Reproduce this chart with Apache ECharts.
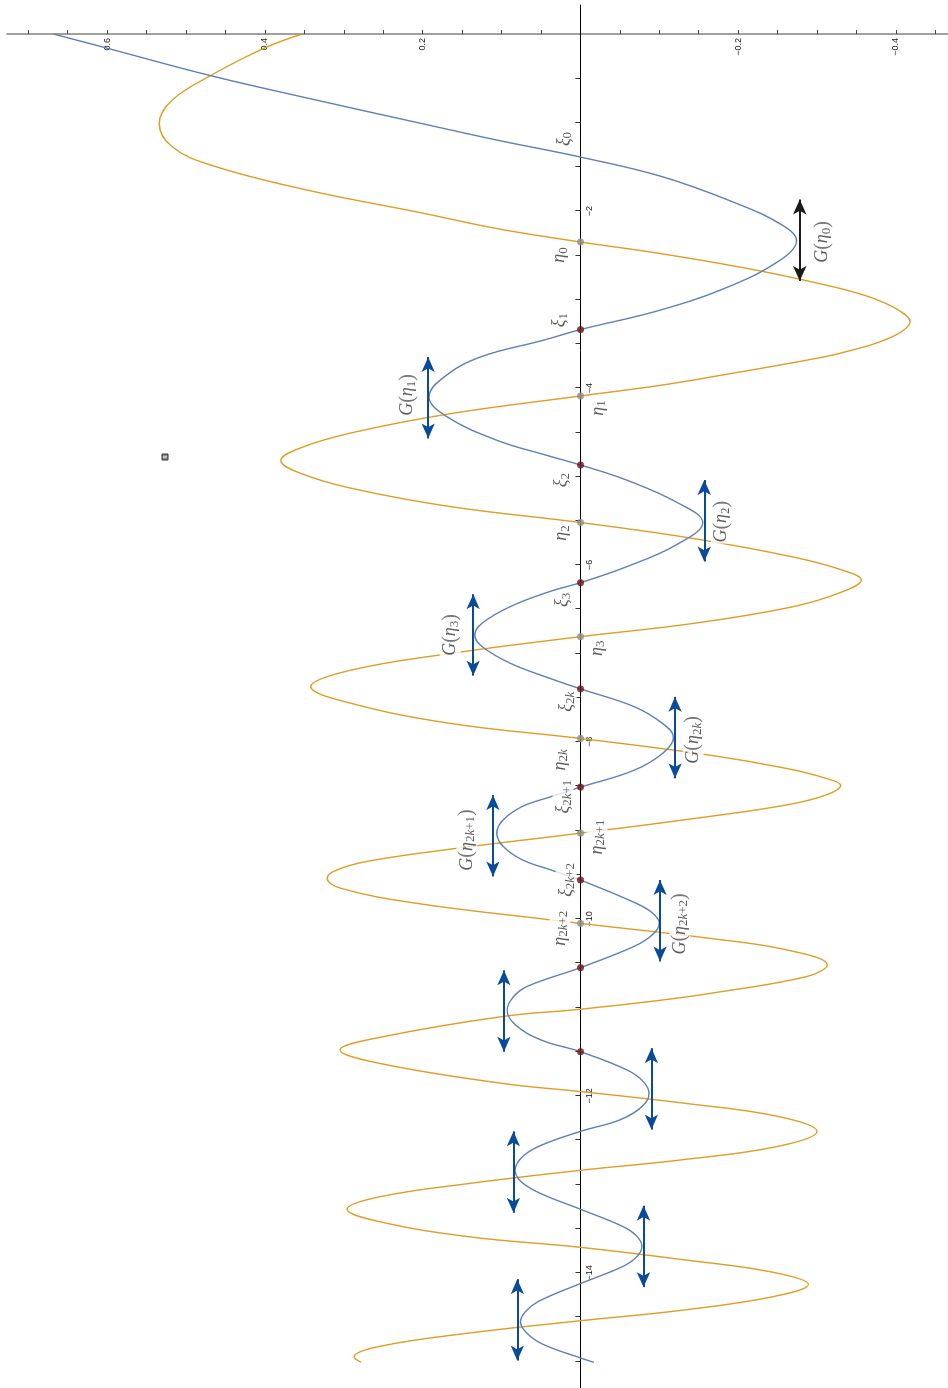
<!DOCTYPE html>
<html>
<head>
<meta charset="utf-8">
<script src="https://cdn.jsdelivr.net/npm/echarts@6/dist/echarts.min.js"></script>
<style>
  html, body { margin: 0; padding: 0; background: #fff; overflow: hidden; width: 948px; height: 1388px; }
  /* the plot is drawn lying down, then turned a quarter turn counter-clockwise */
  #chart { position: absolute; left: 0; top: 0; width: 1388px; height: 948px;
           transform-origin: 0 0; transform: translateY(1388px) rotate(-90deg); }
</style>
</head>
<body>
<div id="chart"></div>
<script>
/* ------------------------------------------------------------------ */
/*                         values                   */
/* ------------------------------------------------------------------ */

// blue curve  [t, value]
const bluePoints = [
  [0, 0.668], [-0.16, 0.600], [-0.47, 0.469], [-0.72, 0.348], [-1.01, 0.202],
  [-1.20, 0.105], [-1.39, 0], [-1.61, -0.103], [-1.91, -0.197], [-2.16, -0.256],
  [-2.335, -0.274], [-2.55, -0.254], [-2.855, -0.188], [-3.12, -0.101], [-3.34, 0],
  [-3.46, 0.047], [-3.65, 0.127], [-3.87, 0.172], [-4.10, 0.192], [-4.32, 0.170],
  [-4.59, 0.106], [-4.76, 0.043], [-4.87, 0], [-5.04, -0.0585], [-5.30, -0.124],
  [-5.52, -0.155], [-5.77, -0.122], [-6.02, -0.0585], [-6.20, 0], [-6.30, 0.039],
  [-6.47, 0.089], [-6.66, 0.125], [-6.79, 0.134], [-6.92, 0.125], [-7.11, 0.089],
  [-7.28, 0.039], [-7.40, 0], [-7.60, -0.068], [-7.79, -0.104], [-7.95, -0.118],
  [-8.13, -0.104], [-8.32, -0.068], [-8.51, 0], [-8.62, 0.038], [-8.73, 0.074],
  [-8.88, 0.098], [-9.03, 0.106], [-9.18, 0.098], [-9.33, 0.074], [-9.45, 0.036],
  [-9.56, 0], [-9.82, -0.070], [-9.93, -0.091], [-10.05, -0.100], [-10.18, -0.091],
  [-10.31, -0.068], [-10.55, 0], [-10.76, 0.067], [-10.88, 0.085], [-11.03, 0.093],
  [-11.20, 0.082], [-11.37, 0.049], [-11.50, 0], [-11.71, -0.060], [-11.84, -0.080],
  [-11.97, -0.087], [-12.12, -0.078], [-12.27, -0.050], [-12.40, 0], [-12.57, 0.053],
  [-12.70, 0.075], [-12.84, 0.083], [-12.97, 0.075], [-13.10, 0.051], [-13.28, 0],
  [-13.48, -0.055], [-13.58, -0.071], [-13.70, -0.078], [-13.82, -0.071], [-13.93, -0.053],
  [-14.12, 0], [-14.32, 0.053], [-14.43, 0.069], [-14.55, 0.076], [-14.67, 0.069],
  [-14.80, 0.049], [-14.96, 0], [-15.01, -0.017]
];

// orange curve  [t, value]
const orangePoints = [
  [0, 0.353], [-0.16, 0.401], [-0.47, 0.469], [-0.75, 0.518], [-1.01, 0.534],
  [-1.27, 0.518], [-1.48, 0.469], [-1.76, 0.348], [-2.02, 0.202], [-2.20, 0.105],
  [-2.35, 0], [-2.48, -0.101], [-2.67, -0.224], [-2.855, -0.320], [-2.93, -0.352],
  [-3.01, -0.378], [-3.13, -0.405], [-3.25, -0.418], [-3.37, -0.406], [-3.49, -0.376],
  [-3.57, -0.345], [-3.65, -0.308], [-3.85, -0.182], [-3.97, -0.101],
  [-4.09, 0], [-4.29, 0.165], [-4.51, 0.292], [-4.68, 0.356], [-4.82, 0.380],
  [-4.96, 0.356], [-5.13, 0.292], [-5.34, 0.165], [-5.52, 0], [-5.70, -0.143],
  [-5.91, -0.270], [-6.06, -0.333], [-6.17, -0.356], [-6.30, -0.333], [-6.47, -0.270],
  [-6.66, -0.143], [-6.81, 0], [-7.00, 0.165], [-7.19, 0.292], [-7.375, 0.342],
  [-7.56, 0.292], [-7.79, 0.165], [-7.96, 0], [-8.15, -0.165], [-8.30, -0.262],
  [-8.41, -0.311], [-8.49, -0.330], [-8.60, -0.311], [-8.71, -0.262], [-8.84, -0.165],
  [-9.03, 0], [-9.21, 0.164], [-9.35, 0.271], [-9.45, 0.310], [-9.54, 0.321],
  [-9.65, 0.305], [-9.82, 0.210], [-10.01, 0.038], [-10.05, 0], [-10.22, -0.165],
  [-10.35, -0.262], [-10.52, -0.313], [-10.65, -0.287], [-10.84, -0.165], [-10.92, -0.100],
  [-11.02, 0], [-11.10, 0.097], [-11.33, 0.250], [-11.48, 0.305], [-11.64, 0.250],
  [-11.86, 0.097], [-11.95, 0], [-12.08, -0.130], [-12.23, -0.250], [-12.40, -0.300],
  [-12.57, -0.250], [-12.72, -0.130], [-12.84, 0], [-12.99, 0.142], [-13.14, 0.255],
  [-13.28, 0.296], [-13.42, 0.255], [-13.59, 0.142], [-13.71, 0], [-13.85, -0.130],
  [-13.99, -0.243], [-14.13, -0.289], [-14.27, -0.243], [-14.42, -0.130], [-14.54, 0],
  [-14.68, 0.142], [-14.83, 0.255], [-14.95, 0.287], [-15.01, 0.278]
];

// marked zeros on the axis
const xiZeros = [-3.34, -4.87, -6.20, -7.40, -8.51, -9.56, -10.55, -11.50];
const etaZeros = [-2.35, -4.09, -5.52, -6.81, -7.96, -9.03, -10.05];

// double arrows at the extrema of the blue curve  [t, value]
const arrowCenters = [
  [-2.33, -0.278], [-4.11, 0.193], [-5.50, -0.157], [-6.79, 0.136],
  [-7.95, -0.120], [-9.06, 0.111], [-10.02, -0.101], [-11.04, 0.097],
  [-11.92, -0.090], [-12.86, 0.085], [-13.70, -0.080], [-14.53, 0.080]
];

// annotation texts and where they sit  [t, value, text]
const notes = [
  [-1.186, 0.021, '{g|ξ}{s|0}'],
  [-3.232, 0.027, '{g|ξ}{s|1}'],
  [-5.040, 0.024, '{g|ξ}{s|2}'],
  [-6.395, 0.023, '{g|ξ}{s|3}'],
  [-7.545, 0.018, '{g|ξ}{s|2}{k|k}'],
  [-8.618, 0.022, '{g|ξ}{s|2}{k|k}{s|+1}'],
  [-9.559, 0.018, '{g|ξ}{s|2}{k|k}{s|+2}'],
  [-2.497, 0.027, '{g|η}{s|0}'],
  [-4.226, -0.022, '{g|η}{s|1}'],
  [-5.638, 0.024, '{g|η}{s|2}'],
  [-6.941, -0.021, '{g|η}{s|3}'],
  [-8.203, 0.026, '{g|η}{s|2}{k|k}'],
  [-9.073, -0.021, '{g|η}{s|2}{k|k}{s|+1}'],
  [-10.105, 0.026, '{g|η}{s|2}{k|k}{s|+2}'],
  [-2.350, -0.307, '{g|G}{p|(}{g|η}{s|0}{p|)}'],
  [-4.079, 0.219, '{g|G}{p|(}{g|η}{s|1}{p|)}'],
  [-5.511, -0.179, '{g|G}{p|(}{g|η}{s|2}{p|)}'],
  [-6.791, 0.165, '{g|G}{p|(}{g|η}{s|3}{p|)}'],
  [-7.977, -0.143, '{g|G}{p|(}{g|η}{s|2}{k|k}{p|)}'],
  [-9.107, 0.144, '{g|G}{p|(}{g|η}{s|2}{k|k}{s|+1}{p|)}'],
  [-10.056, -0.126, '{g|G}{p|(}{g|η}{s|2}{k|k}{s|+2}{p|)}']
];

// axis ticks and labels
const tLabels = [-14, -12, -10, -8, -6, -4, -2];
const tTicks = [-15, -14.5, -14, -13.5, -13, -12.5, -12, -11.5, -11, -10.5, -10, -9.5, -9,
  -8.5, -8, -7.5, -7, -6.5, -6, -5.5, -5, -4.5, -4, -3.5, -3, -2.5, -2, -1.5, -1, -0.5];
const valueLabels = [-0.4, -0.2, 0.2, 0.4, 0.6];
const valueTicks = [-0.45, -0.4, -0.35, -0.3, -0.25, -0.2, -0.15, -0.1, -0.05, 0.05, 0.1,
  0.15, 0.2, 0.25, 0.3, 0.35, 0.4, 0.45, 0.5, 0.55, 0.6, 0.65, 0.7];

/* ------------------------------------------------------------------ */

const BLUE = '#5e81b5';
const ORANGE = '#e19c24';
const ARROW = '#0a4a9b';
const ARROW_HALF = 0.46;
const SERIF = 'Liberation Serif';

// plot box inside the (unrotated) canvas
const W = 1388, H = 948;
const GRID = { left: 0, right: 5, top: 7, bottom: 0 };
const T_MIN = -15.30, T_MAX = 0.328;
const V_MIN = -0.466, V_MAX = 0.727;

// pixel offsets that put each axis where the other one is zero
const zeroFromBottom = (0 - V_MIN) / (V_MAX - V_MIN) * (H - GRID.top - GRID.bottom);
const zeroFromLeft = (0 - T_MIN) / (T_MAX - T_MIN) * (W - GRID.left - GRID.right);

const minus = v => String(v).replace('-', '\u2212');

const chart = echarts.init(document.getElementById('chart'), null, {
  renderer: 'canvas', width: W, height: H
});

const arrowLines = arrowCenters.map(([t, v], i) => [
  { coord: [t - ARROW_HALF, v], lineStyle: { color: i === 0 ? '#1a1a1a' : ARROW },
    itemStyle: { color: i === 0 ? '#1a1a1a' : ARROW } },
  { coord: [t + ARROW_HALF, v] }
]);

const option = {
  animation: false,
  backgroundColor: '#fff',
  grid: { ...GRID, containLabel: false, outerBoundsMode: 'none' },
  xAxis: {
    type: 'value',
    min: T_MIN,
    max: T_MAX,
    position: 'bottom',
    offset: -zeroFromBottom,
    axisLine: { onZero: false, lineStyle: { color: '#000', width: 1 } },
    axisTick: { inside: true, length: 5, customValues: tTicks, lineStyle: { color: '#333' } },
    axisLabel: {
      customValues: tLabels,
      formatter: minus,
      margin: 5,
      fontFamily: 'Liberation Sans',
      fontSize: 9,
      color: '#222'
    },
    splitLine: { show: false }
  },
  yAxis: {
    type: 'value',
    min: V_MIN,
    max: V_MAX,
    position: 'left',
    offset: -zeroFromLeft,
    axisLine: { onZero: false, lineStyle: { color: '#888', width: 1.6 } },
    axisTick: { inside: true, length: 4, customValues: valueTicks, lineStyle: { color: '#444' } },
    axisLabel: {
      customValues: valueLabels,
      formatter: minus,
      margin: 4,
      fontFamily: 'Liberation Sans',
      fontSize: 9,
      color: '#222'
    },
    splitLine: { show: false }
  },
  series: [
    {
      name: 'orange',
      type: 'line',
      data: orangePoints,
      smooth: 0.4,
      showSymbol: false,
      lineStyle: { color: ORANGE, width: 1.4 },
      z: 2
    },
    {
      name: 'blue',
      type: 'line',
      data: bluePoints,
      smooth: 0.4,
      showSymbol: false,
      lineStyle: { color: BLUE, width: 1.4 },
      z: 3
    },
    {
      name: 'arrows',
      type: 'line',
      data: [],
      z: 6,
      markLine: {
        silent: true,
        animation: false,
        symbol: ['arrow', 'arrow'],
        symbolSize: [10, 15],
        label: { show: false },
        lineStyle: { type: 'solid', width: 2 },
        data: arrowLines
      }
    },
    {
      name: 'eta',
      type: 'scatter',
      data: etaZeros.map(t => [t, 0]),
      symbolSize: 7,
      itemStyle: { color: '#8f8f86' },
      z: 5
    },
    {
      name: 'xi',
      type: 'scatter',
      data: xiZeros.map(t => [t, 0]),
      symbolSize: 7,
      itemStyle: { color: '#6b1414' },
      z: 5
    },
    {
      name: 'notes',
      type: 'scatter',
      data: notes.map(([t, v, text]) => ({ value: [t, v], text })),
      symbolSize: 1,
      itemStyle: { color: 'rgba(0,0,0,0)' },
      z: 8,
      label: {
        show: true,
        position: 'inside',
        formatter: p => p.data.text,
        backgroundColor: '#fff',
        padding: [0, 1],
        rich: {
          g: { fontFamily: SERIF, fontStyle: 'italic', fontSize: 18, color: '#333',
               lineHeight: 21, verticalAlign: 'middle' },
          p: { fontFamily: SERIF, fontSize: 20, color: '#555', lineHeight: 21, verticalAlign: 'middle' },
          s: { fontFamily: SERIF, fontSize: 13, color: '#333', verticalAlign: 'bottom' },
          k: { fontFamily: SERIF, fontStyle: 'italic', fontSize: 13, color: '#333', verticalAlign: 'bottom' }
        }
      }
    }
  ],
  graphic: [
    { type: 'rect', shape: { x: 928, y: 162, width: 6, height: 6 },
      style: { fill: '#8a8a8a', stroke: '#333', lineWidth: 1 } },
    { type: 'line', shape: { x1: 931, y1: 163, x2: 931, y2: 167 },
      style: { stroke: '#fff', lineWidth: 1 } }
  ]
};

chart.setOption(option);
</script>
</body>
</html>
